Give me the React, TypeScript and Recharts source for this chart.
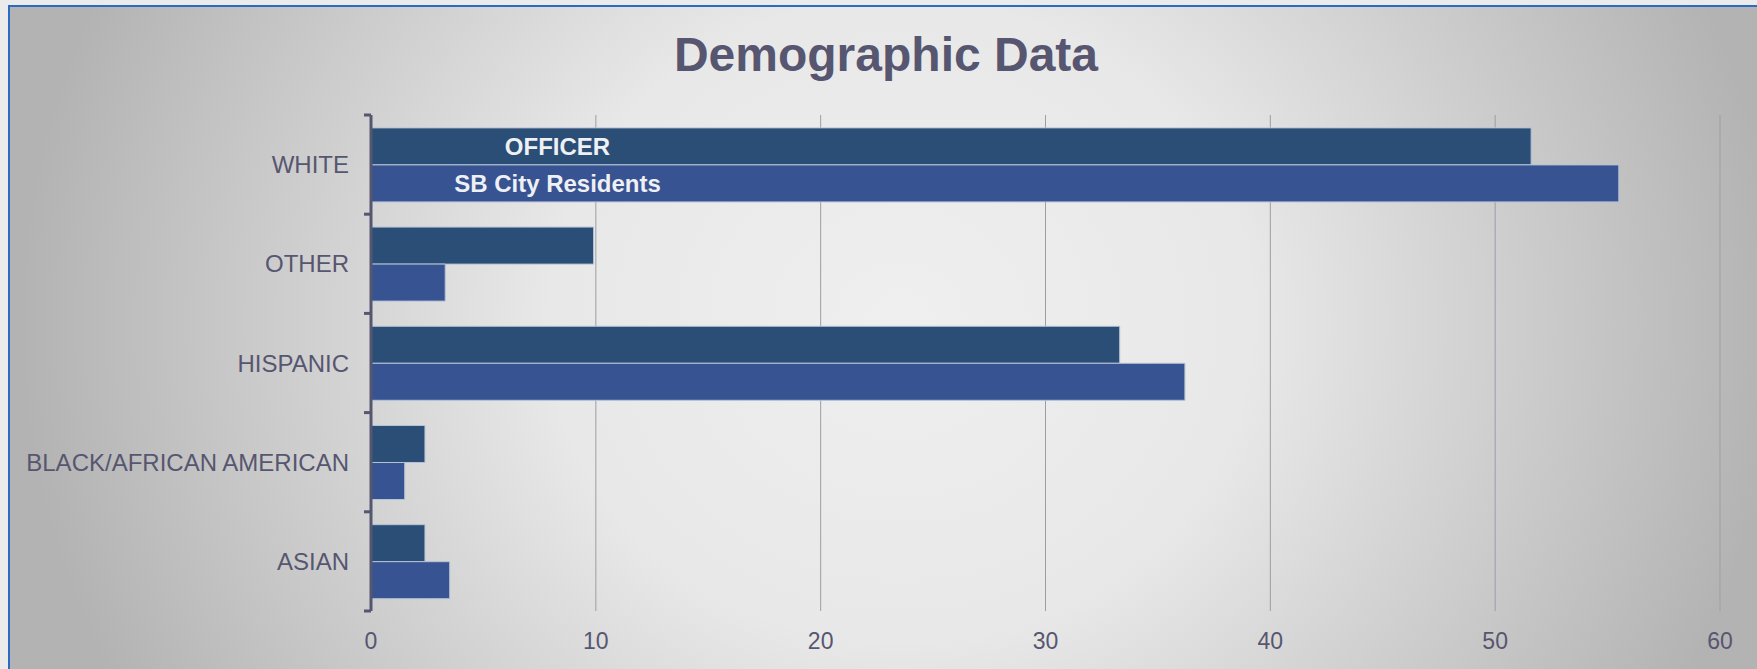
import React from 'react';
import { BarChart, Bar, XAxis, YAxis, CartesianGrid, LabelList } from 'recharts';

const categories = ['WHITE', 'OTHER', 'HISPANIC', 'BLACK/AFRICAN AMERICAN', 'ASIAN'];
const officerValues = [51.6, 9.9, 33.3, 2.4, 2.4];
const residentValues = [55.5, 3.3, 36.2, 1.5, 3.5];
const seriesNames = ['OFFICER', 'SB City Residents'];
const xTicks = [0, 10, 20, 30, 40, 50, 60];
const chartTitle = 'Demographic Data';

const data = categories.map((c, i) => ({
  category: c,
  officer: officerValues[i],
  residents: residentValues[i],
}));

const FONT = '"Liberation Sans", Arial, Helvetica, sans-serif';
const TEXT_COLOR = '#575670';
const AXIS_COLOR = '#565670';

const CategoryTick = (props: any) => {
  const { x, y, payload } = props;
  const half = payload && typeof payload.offset === 'number' && payload.offset > 0 ? payload.offset : 49.6;
  const ax = x + 22;
  const isLast = payload.value === categories[categories.length - 1];
  return (
    <g>
      <line x1={ax - 7} x2={ax} y1={y - half} y2={y - half} stroke={AXIS_COLOR} strokeWidth={3} />
      {isLast && (
        <line x1={ax - 7} x2={ax} y1={y + half} y2={y + half} stroke={AXIS_COLOR} strokeWidth={3} />
      )}
      <text x={x} y={y} dy="0.355em" textAnchor="end" fill={TEXT_COLOR} fontSize={24} fontFamily={FONT}>
        {payload.value}
      </text>
    </g>
  );
};

const makeSeriesLabel = (name: string) => (p: any) => {
  if (p.index !== undefined && p.index !== 0) return null;
  if (p.index === undefined && p.value !== categories[0]) return null;
  const x = Number(p.x) + 186.5;
  const y = Number(p.y) + Number(p.height) / 2;
  return (
    <text x={x} y={y} dy="0.355em" textAnchor="middle" fill="#eef0f4" fontSize={24} fontWeight="bold" fontFamily={FONT}>
      {name}
    </text>
  );
};

export default function App() {
  return (
    <div style={{ position: 'absolute', left: 0, top: 0, width: 1757, height: 669, overflow: 'hidden', background: '#ebebeb' }}>
      <div
        style={{
          position: 'absolute',
          left: 8,
          top: 5,
          width: 1800,
          height: 720,
          boxSizing: 'border-box',
          borderLeft: '2px solid #2a6bc4',
          borderTop: '2px solid #2a6bc4',
          background: 'radial-gradient(ellipse 880px 800px at 890px 315px, #efefef 0%, #e8e8e8 40%, #b3b3b3 100%)',
        }}
      />
      <div
        style={{
          position: 'absolute',
          left: 0,
          top: 31,
          width: 1772,
          textAlign: 'center',
          fontFamily: FONT,
          fontWeight: 'bold',
          fontSize: 48,
          lineHeight: '48px',
          color: TEXT_COLOR,
        }}
      >
        {chartTitle}
      </div>
      <div style={{ position: 'absolute', left: 0, top: 0 }}>
        <BarChart
          width={1757}
          height={669}
          data={data}
          layout="vertical"
          margin={{ top: 115, right: 37, bottom: 18, left: 71 }}
          barCategoryGap="13%"
          barGap={0}
        >
          <CartesianGrid horizontal={false} vertical={true} stroke="#9d9da7" strokeWidth={1} />
          <XAxis
            type="number"
            domain={[0, 60]}
            ticks={xTicks}
            axisLine={false}
            tickLine={false}
            tickSize={0}
            tickMargin={22}
            height={40}
            tick={{ fill: TEXT_COLOR, fontSize: 23, fontFamily: FONT }}
            interval={0}
          />
          <YAxis
            type="category"
            dataKey="category"
            width={300}
            axisLine={{ stroke: AXIS_COLOR, strokeWidth: 3 }}
            tickLine={false}
            tickSize={0}
            tickMargin={22}
            tick={<CategoryTick />}
            interval={0}
          />
          <Bar dataKey="officer" name={seriesNames[0]} fill="#2b4e76" stroke="#b6c2d6" strokeWidth={1} isAnimationActive={false}>
            <LabelList dataKey="category" content={makeSeriesLabel(seriesNames[0])} />
          </Bar>
          <Bar dataKey="residents" name={seriesNames[1]} fill="#375392" stroke="#b6c2d6" strokeWidth={1} isAnimationActive={false}>
            <LabelList dataKey="category" content={makeSeriesLabel(seriesNames[1])} />
          </Bar>
        </BarChart>
      </div>
    </div>
  );
}
